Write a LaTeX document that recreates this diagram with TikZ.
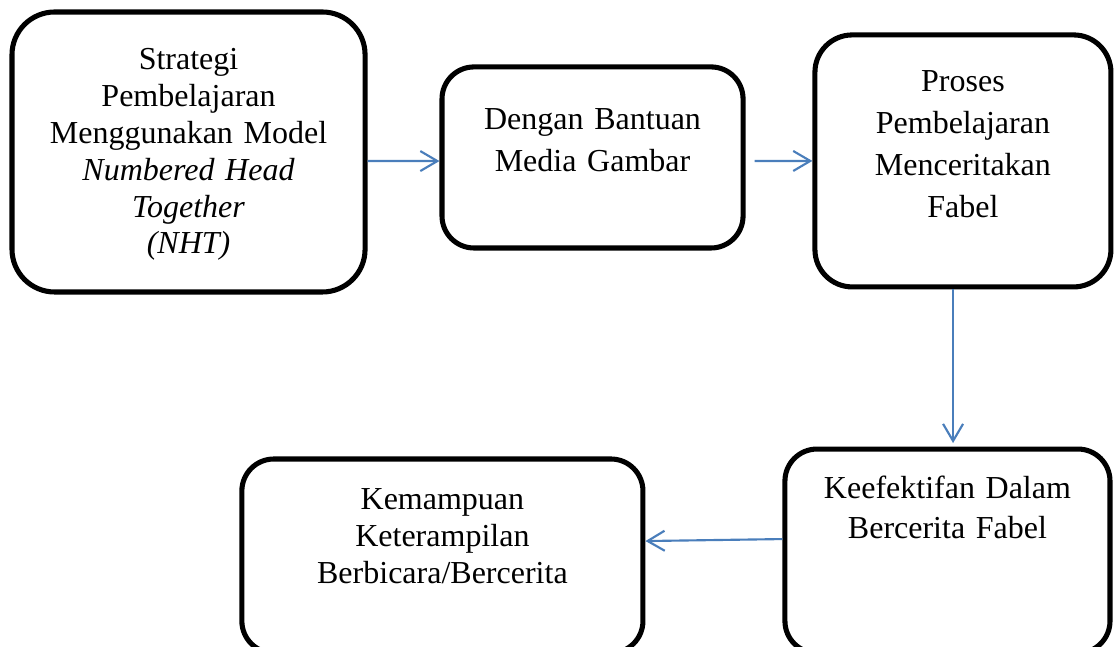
\documentclass[tikz,border=0pt]{standalone}
\usepackage{fontspec}
\setmainfont{Liberation Serif}
\usetikzlibrary{arrows.meta}
\definecolor{arrowblue}{RGB}{74,126,187}

\begin{document}
\begin{tikzpicture}[rounded corners, thick,
    >={Straight Barb[length=6.4pt, width=7.5pt]},
    box_style/.style = {draw, rectangle, rounded corners=12pt, line width=1.9pt,
        align=center, inner sep=0pt, font=\fontsize{12pt}{13.8pt}\selectfont},
    link_style/.style = {->, draw=arrowblue}]

\useasboundingbox (0,0) rectangle (417.75pt,-242.6pt);

\node[box_style, rounded corners=16pt, text width=132.4pt, text height=21.75pt, text depth=83.25pt] (1) at (70.7pt,-57pt) {
    Strategi\\
    Pembelajaran\\
    Menggunakan Model\\
    \textit{Numbered Head}\\
    \textit{Together}\\
    \textit{(NHT)}};

\node[box_style, right of=1, node distance=151.5pt, yshift=-2.05pt,
    text width=112.9pt, text height=23.6pt, text depth=44.3pt,
    font=\fontsize{12pt}{15.75pt}\selectfont] (2) {
    Dengan Bantuan\\
    Media Gambar};

\node[box_style, rounded corners=14pt, right of=2, node distance=138.9pt, yshift=-1.3pt,
    text width=111pt, text height=21.4pt, text depth=73.1pt,
    font=\fontsize{12pt}{15.75pt}\selectfont] (3) {
    Proses\\
    Pembelajaran\\
    Menceritakan\\
    Fabel};

\node[box_style, below of=3, node distance=146.3pt, xshift=-5.8pt,
    text width=121.9pt, text height=18.4pt, text depth=58.1pt,
    font=\fontsize{12pt}{15pt}\selectfont] (4) {
    Keefektifan Dalam\\
    Bercerita Fabel};

\node[box_style, left of=4, node distance=189.4pt, yshift=-1.85pt,
    text width=150.4pt, text height=19.1pt, text depth=53.65pt] (5) {
    Kemampuan\\
    Keterampilan\\
    Berbicara/Bercerita};

% Strategi to media
\draw[link_style] ([yshift=-3.4pt]1.east) -- ([yshift=-1.35pt]2.west);

% Media to proses
\draw[link_style] ([xshift=3.4pt, yshift=-1.35pt]2.east) -- (3.west);

% Proses to keefektifan
\draw[link_style] ([xshift=-3.7pt]3.south) -- ([xshift=2.1pt, yshift=1.3pt]4.north);

% Keefektifan to kemampuan
\draw[link_style] ([yshift=4.5pt]4.west) -- ([yshift=5.6pt]5.east);

\end{tikzpicture}
\end{document}
